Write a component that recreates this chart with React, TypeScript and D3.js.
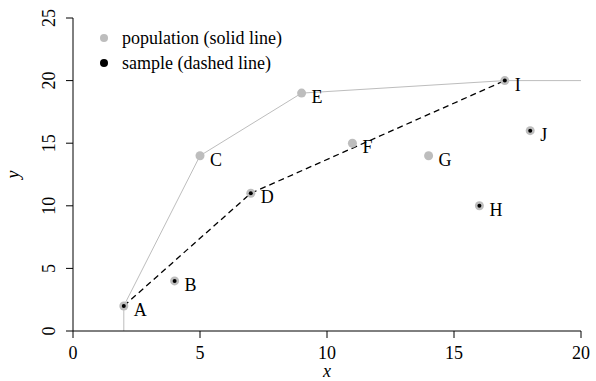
import React from "react";
import * as d3 from "d3";

// Point labels and coordinates
const labels = ["A", "B", "C", "D", "E", "F", "G", "H", "I", "J"];
const xs = [2, 4, 5, 7, 9, 11, 14, 16, 17, 18];
const ys = [2, 4, 14, 11, 19, 15, 14, 10, 20, 16];
// Whether each point belongs to the sample
const inSample = [true, true, false, true, false, false, false, true, true, true];

// Population frontier (solid) and sample frontier (dashed)
const popLineX = [2, 2, 5, 9, 17, 20];
const popLineY = [0, 2, 14, 19, 20, 20];
const sampleLineX = [2, 7, 17];
const sampleLineY = [2, 11, 20];

const xTicks = [0, 5, 10, 15, 20];
const yTicks = [0, 5, 10, 15, 20, 25];

const legendLabels = ["population (solid line)", "sample (dashed line)"];

const W = 596;
const H = 381;
const FONT = "'Liberation Serif', 'Times New Roman', serif";
const FS = 18;
const GREY = "#bdbdbd";

export default function App() {
  const x = d3.scaleLinear().domain([0, 20]).range([73, 581]);
  const y = d3.scaleLinear().domain([0, 25]).range([331, 18]);

  const line = d3
    .line<[number, number]>()
    .x((d) => x(d[0]))
    .y((d) => y(d[1]));

  const popPath = line(popLineX.map((v, i) => [v, popLineY[i]]) as [number, number][]) || "";
  const samplePath = line(sampleLineX.map((v, i) => [v, sampleLineY[i]]) as [number, number][]) || "";

  return (
    <svg
      width={W}
      height={H}
      style={{ position: "absolute", left: 0, top: 0, background: "#fff" }}
      fontFamily={FONT}
    >
      {/* frontier lines */}
      <path d={popPath} fill="none" stroke={GREY} strokeWidth={1} />
      <path d={samplePath} fill="none" stroke="#000" strokeWidth={1.3} strokeDasharray="6,4" />

      {/* points */}
      {xs.map((v, i) => (
        <g key={labels[i]}>
          <circle cx={x(v)} cy={y(ys[i])} r={4.5} fill={GREY} />
          {inSample[i] && <circle cx={x(v)} cy={y(ys[i])} r={2} fill="#000" />}
          <text x={x(v) + 10} y={y(ys[i]) + 10} fontSize={FS} fill="#000">
            {labels[i]}
          </text>
        </g>
      ))}

      {/* x axis */}
      <line x1={x(0)} x2={x(20)} y1={331} y2={331} stroke="#000" strokeWidth={1} />
      {xTicks.map((t) => (
        <g key={"xt" + t}>
          <line x1={x(t)} x2={x(t)} y1={331} y2={338} stroke="#000" />
          <text x={x(t)} y={359} textAnchor="middle" fontSize={FS}>
            {t}
          </text>
        </g>
      ))}
      <text x={x(10)} y={377} textAnchor="middle" fontSize={FS} fontStyle="italic">
        x
      </text>

      {/* y axis */}
      <line x1={73} x2={73} y1={y(0)} y2={y(25)} stroke="#000" strokeWidth={1} />
      {yTicks.map((t) => (
        <g key={"yt" + t}>
          <line x1={66} x2={73} y1={y(t)} y2={y(t)} stroke="#000" />
          <text
            transform={`translate(55,${y(t)}) rotate(-90)`}
            textAnchor="middle"
            fontSize={FS}
          >
            {t}
          </text>
        </g>
      ))}
      <text
        transform={`translate(19,${y(12.5)}) rotate(-90)`}
        textAnchor="middle"
        fontSize={FS}
        fontStyle="italic"
      >
        y
      </text>

      {/* legend */}
      <circle cx={104} cy={38} r={4} fill={GREY} />
      <text x={122} y={44} fontSize={FS}>
        {legendLabels[0]}
      </text>
      <circle cx={104} cy={63} r={4} fill="#000" />
      <text x={122} y={69} fontSize={FS}>
        {legendLabels[1]}
      </text>
    </svg>
  );
}
